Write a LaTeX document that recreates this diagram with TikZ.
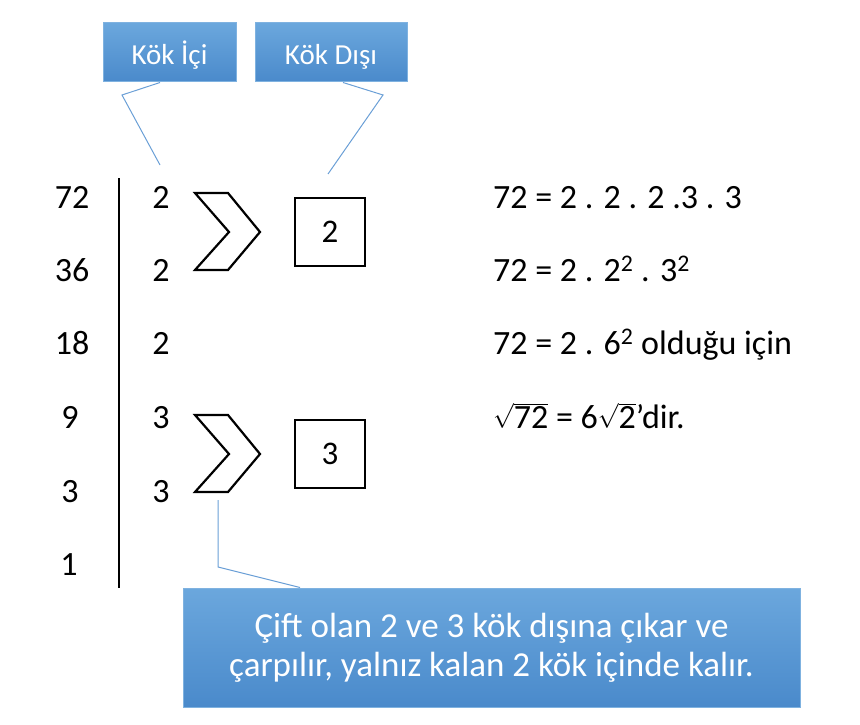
\documentclass[tikz,border=0pt]{standalone}
\usepackage{fontspec}
\setmainfont{Carlito}
\definecolor{bluefill}{HTML}{5B9BD5}
\definecolor{bluetop}{HTML}{6BA7DD}
\definecolor{bluebot}{HTML}{4A8ACB}
\definecolor{blueedge}{HTML}{7FB2E0}
\definecolor{calline}{HTML}{6A9FD6}
\begin{document}
\begin{tikzpicture}[x=1pt,y=-1pt,
  label box/.style={draw=blueedge,line width=1pt,top color=bluetop,bottom color=bluebot,text=white,font=\fontsize{29}{34}\selectfont,inner sep=0pt},
  callout/.style={draw=calline,line width=1pt},
  num/.style={font=\fontsize{34}{40}\selectfont,anchor=base,inner sep=0pt},
  eq/.style={font=\fontsize{34}{40}\selectfont,anchor=base west,inner sep=0pt},
  chev/.style={draw=black,line width=2.2pt,line join=miter},
  sqbox/.style={draw=black,line width=2pt,minimum width=70pt,minimum height=68pt,font=\fontsize{33}{38}\selectfont,inner sep=0pt}]
\useasboundingbox (0,0) rectangle (860,725);
% label boxes
\node[label box,minimum width=133pt,minimum height=59pt,text height=27pt,text depth=2pt] (ici) at (169.5,52.5) {Kök İçi};
\node[label box,minimum width=152pt,minimum height=59pt,text height=27pt,text depth=2pt] (disi) at (331,52.5) {Kök Dışı};
\node[label box,minimum width=617pt,minimum height=119pt,font=\fontsize{35}{40}\selectfont,align=center] (note) at (491.5,647.5) {Çift olan 2 ve 3 kök dışına çıkar ve\\[-1pt]çarpılır, yalnız kalan 2 kök içinde kalır.};
% vertical line
\coordinate (vt) at (119,178);
\coordinate (vb) at (119,588);
\draw[line width=2pt] (vt) -- (vb);
% left column
\node[num] (n72) at (72,208) {72};
\node[num] (n36) at (72,281) {36};
\node[num] (n18) at (72,354) {18};
\node[num] (n9) at (70,428) {9};
\node[num] (n3) at (70,502) {3};
\node[num] (n1) at (69,575) {1};
% right column
\node[num] (f1) at (161,208) {2};
\node[num] (f2) at (161,281) {2};
\node[num] (f3) at (161,354) {2};
\node[num] (f4) at (161,428) {3};
\node[num] (f5) at (161,502) {3};
% chevrons
\draw[chev] (195,193) -- (228,193) -- (260,232) -- (228,270) -- (195,270) -- (229,232) -- cycle;
\draw[chev] (195,415) -- (228,415) -- (260,454) -- (228,492) -- (195,492) -- (229,454) -- cycle;
\coordinate (chevb) at (218,500);
% boxes
\node[sqbox] (b2) at (330,232) {2};
\node[sqbox] (b3) at (330,454) {3};
% callout lines
\coordinate (ci1) at (122,95);
\coordinate (ci2) at (160,165);
\draw[callout] (ici.south -| 160,0) -- (ci1) -- (ci2);
\coordinate (cd1) at (383,95);
\coordinate (cd2) at (328,174);
\draw[callout] (disi.south -| 343,0) -- (cd1) -- (cd2);
\coordinate (cn1) at (218,567);
\draw[callout] (note.north -| 300,0) -- (cn1) -- (chevb);
% equations
\node[eq] (e1) at (493,208) {72 = 2 . 2 . 2 .3 . 3};
\node[eq] (e2) at (493,281) {72 = 2 . 2\textsuperscript{2} . 3\textsuperscript{2}};
\node[eq] (e3) at (493,354) {72 = 2 . 6\textsuperscript{2} olduğu için};
\node[eq] (e4) at (493,428) {$\sqrt{\mbox{72}}$ = 6$\sqrt{\mbox{2}}$’dir.};
\end{tikzpicture}
\end{document}
